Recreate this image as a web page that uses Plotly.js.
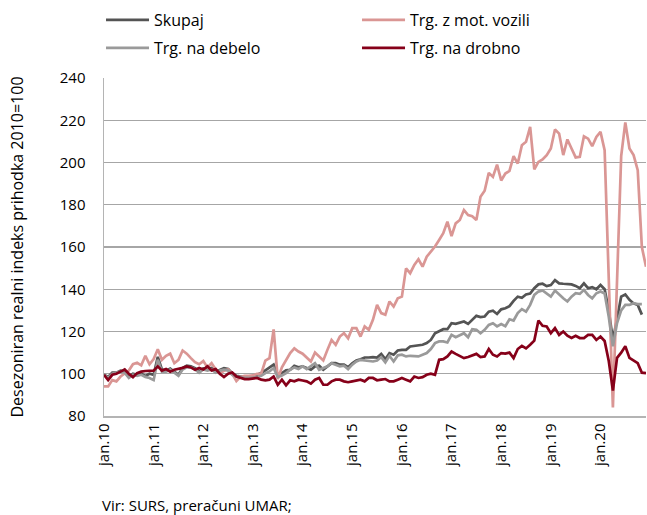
<!DOCTYPE html>
<html><head><meta charset="utf-8">
<script src="https://cdn.plot.ly/plotly-3.0.1.min.js"></script>
<style>html,body{margin:0;padding:0;background:#fff}#chart{width:647px;height:515px}</style>
</head><body><div id="chart"></div>
<script>
const monthNames = ['jan','feb','mar','apr','maj','jun','jul','avg','sep','okt','nov','dec'];
const years = ['10','11','12','13','14','15','16','17','18','19','20'];
const months = [];
years.forEach(y => monthNames.forEach(mn => months.push(mn + '.' + y)));
const tickLabels = ['jan.10','jan.11','jan.12','jan.13','jan.14','jan.15','jan.16','jan.17','jan.18','jan.19','jan.20'];

const skupaj = [99.5, 98.5, 100.5, 100.5, 101.5, 101, 98.5, 100, 99.5, 100, 99, 100,
 99.5, 108, 102, 101.5, 102.5, 101, 99.5, 102.7, 103.8, 103.5, 102.7, 101,
 102.5, 102.3, 102.7, 101, 101.9, 102.7, 102.3, 100.3, 99, 98.7, 98.4, 98.7,
 98.7, 99.5, 100.3, 101.6, 103, 104.3, 99.5, 100.3, 101.6, 101.9, 103.8, 103.1,
 103.5, 102.7, 101.9, 103.5, 103.8, 101.9, 103.5, 105, 105, 104.3, 104.3, 103.1,
 105, 106.3, 106.9, 107.7, 107.7, 107.9, 107.7, 109.4, 106.9, 109.8, 109, 111,
 111.3, 111.3, 112.9, 113.2, 113.2, 113.7, 114.5, 116, 119.2, 120, 121.1, 121.1,
 123.9, 123.6, 124.2, 124.7, 123.6, 125.5, 127.4, 126.8, 127.1, 129.4, 129.8, 128.3,
 130.5, 131, 132, 134.5, 136.5, 136, 137.5, 138, 140.5, 142.3, 142.6, 141.5,
 142, 144.3, 142.8, 142.6, 142.6, 142.3, 141.6, 140.5, 142.8, 140.5, 141, 140,
 142, 140, 130, 116, 126, 136.5, 137.5, 135, 133.3, 132.6, 128];

const motVozili = [94, 94, 97, 96.4, 98.7, 100, 101.5, 104.5, 105.2, 104, 108.5, 104.5,
 107, 111.6, 106.6, 108.5, 109.5, 105, 106.6, 111, 109.5, 107.4, 105.5, 104.5,
 106, 103, 105, 102, 100, 101.5, 102, 100, 96.5, 98.5, 99, 99,
 99.2, 100, 100, 106.2, 107.4, 121, 97.5, 103, 106.5, 109.8, 112, 110.5,
 109.5, 107.4, 105.8, 110, 108, 106.3, 111.3, 116, 113.7, 117.6, 119.2, 116.8,
 121.6, 121.6, 117.6, 122.4, 120.8, 125.5, 132.6, 128.7, 127.9, 134.2, 131.8, 135.7,
 136.5, 149.9, 147.6, 151.5, 154.2, 150.7, 155.4, 157.8, 160.2, 163.3, 166.5, 172,
 165.2, 171.2, 172.8, 177.5, 175.1, 174.6, 172.8, 183.8, 186.6, 195.1, 193.2, 199,
 191.5, 194.8, 196, 203, 199.5, 208.2, 209.8, 216.9, 196.7, 200.3, 201.4, 203.5,
 206.6, 215.6, 213.7, 203.5, 210.9, 206.6, 202.4, 202.7, 212.4, 211.3, 207.7, 212.1,
 214.5, 205.8, 142, 84, 144, 203, 219, 206.6, 203.5, 196.4, 160, 150.7];

const debelo = [99.5, 98, 100, 100.5, 101, 100.5, 98, 99.5, 99, 99.5, 98.5, 98,
 97, 106.6, 101, 101, 102, 100.5, 99, 102, 103, 103, 102, 100.5,
 102, 101.5, 102, 100.5, 101.5, 102, 101.5, 99.5, 98.5, 98.5, 98, 98,
 98, 98.5, 99, 100.3, 101.1, 102.7, 98.4, 99.2, 100.3, 101.9, 103, 102.2,
 103.5, 102.2, 103.5, 105, 101.9, 102.7, 103.5, 105, 104.3, 103.5, 103.8, 102.2,
 104.3, 105.8, 106.6, 106.3, 106.3, 105.8, 106.3, 107.9, 105.4, 108.5, 105.8, 108.7,
 109, 108.2, 108.5, 108.2, 108.2, 109, 109.8, 111.7, 114.5, 115.3, 115.3, 114.8,
 118.4, 117.3, 118.4, 119.2, 117.3, 121.1, 120.8, 119.2, 120.8, 123.1, 123.9, 122.4,
 123.5, 122.5, 125.8, 125.2, 128.7, 130.6, 129.4, 132.6, 137.3, 138.9, 139.4, 138.1,
 136.5, 139.4, 137.3, 135.7, 134.2, 136.5, 138.1, 137.8, 139.7, 137.3, 135.7, 138.1,
 138.9, 138, 127, 113, 124, 130, 132.6, 132.6, 133.4, 133, 133];

const drobno = [99.5, 97, 99.5, 100, 101, 102, 100, 98.4, 100.3, 101, 101.3, 101.3,
 101.5, 103.5, 101.5, 102.2, 101, 101.9, 102.2, 102.8, 103.5, 103, 101.9, 102.7,
 102, 103.5, 101.6, 102.2, 100, 98.4, 100, 100.6, 98.7, 98, 97.5, 97.5,
 97.6, 98, 97.2, 96.9, 97.2, 98.7, 94.8, 97.2, 94.5, 96.9, 96.4, 97.2,
 96.8, 96.4, 95.3, 97.2, 98, 94.8, 94.8, 96.4, 97.2, 97.2, 96.4, 96,
 96.4, 96.9, 97.2, 96.4, 98, 98, 96.9, 97.2, 97.5, 96.4, 96.4, 97.2,
 98, 97.2, 96.4, 98.7, 98, 98.4, 99.5, 100, 99.5, 106.6, 106.9, 108.2,
 110.5, 109.4, 108.2, 107.4, 107.9, 108.5, 109.4, 107.9, 108.2, 111.7, 109, 108.2,
 109.8, 109.5, 110, 107.4, 111.7, 113.2, 112, 113.7, 115.7, 125.2, 122.7, 122.4,
 119.2, 121.6, 118.4, 120, 118, 116.9, 118, 116.9, 116.9, 118.4, 118.4, 116,
 117.6, 115.5, 106, 92, 107.5, 110, 113, 107.5, 106.3, 105, 100.5, 100.3];

const FONT = 'Open Sans, sans-serif';
function tr(name, vals, color, legend) {
  return {type:'scatter', mode:'lines', name:name, x:months.slice(0, vals.length), y:vals,
    line:{color:color, width:2.7}, legend:legend, hoverinfo:'x+y+name'};
}
const data = [
  tr('Skupaj', skupaj, '#545454', 'legend'),
  tr('Trg. z mot. vozili', motVozili, '#DA9694', 'legend'),
  tr('Trg. na debelo', debelo, '#9A9A9A', 'legend2'),
  tr('Trg. na drobno', drobno, '#860019', 'legend2')
];
const legendBase = {orientation:'h', xanchor:'left', yanchor:'middle', x:-0.0055,
  entrywidth:198, entrywidthmode:'pixels', itemwidth:43, font:{family:FONT, size:16, color:'#000'},
  bgcolor:'rgba(0,0,0,0)', tracegroupgap:0};
const layout = {
  width:647, height:515,
  margin:{l:104, r:1, t:78, b:99, autoexpand:false},
  paper_bgcolor:'#fff', plot_bgcolor:'#fff',
  font:{family:FONT, color:'#000'},
  showlegend:true,
  legend:Object.assign({}, legendBase, {y:1 + (78-20)/338}),
  legend2:Object.assign({}, legendBase, {y:1 + (78-48)/338}),
  xaxis:{type:'category', categoryorder:'array', categoryarray:months, range:[0,131],
    tickmode:'array', tickvals:tickLabels, ticktext:tickLabels, tickangle:-90,
    showgrid:false, zeroline:false, showline:true, linecolor:'#b4b4b4', linewidth:1.5,
    ticks:'', tickfont:{family:FONT, size:15, color:'#000'}, automargin:false},
  yaxis:{range:[80,240], dtick:20, tick0:80, showgrid:true, gridcolor:'#a6a6a6', gridwidth:1.4,
    zeroline:false, showline:true, linecolor:'#b4b4b4', linewidth:1.5, ticks:'', automargin:false,
    ticklabelstandoff:14, tickfont:{family:FONT, size:15, color:'#000'},
    title:{text:'Desezoniran realni indeks prihodka 2010=100', font:{family:FONT, size:16, color:'#000'}, standoff:32}},
  annotations:[{xref:'paper', yref:'paper', x:-0.0074, y:-0.262, xanchor:'left', yanchor:'middle',
    text:'Vir: SURS, preračuni UMAR;', showarrow:false, font:{family:FONT, size:15, color:'#000'}}]
};
Plotly.newPlot('chart', data, layout, {displayModeBar:false, staticPlot:true});
</script>
</body></html>
